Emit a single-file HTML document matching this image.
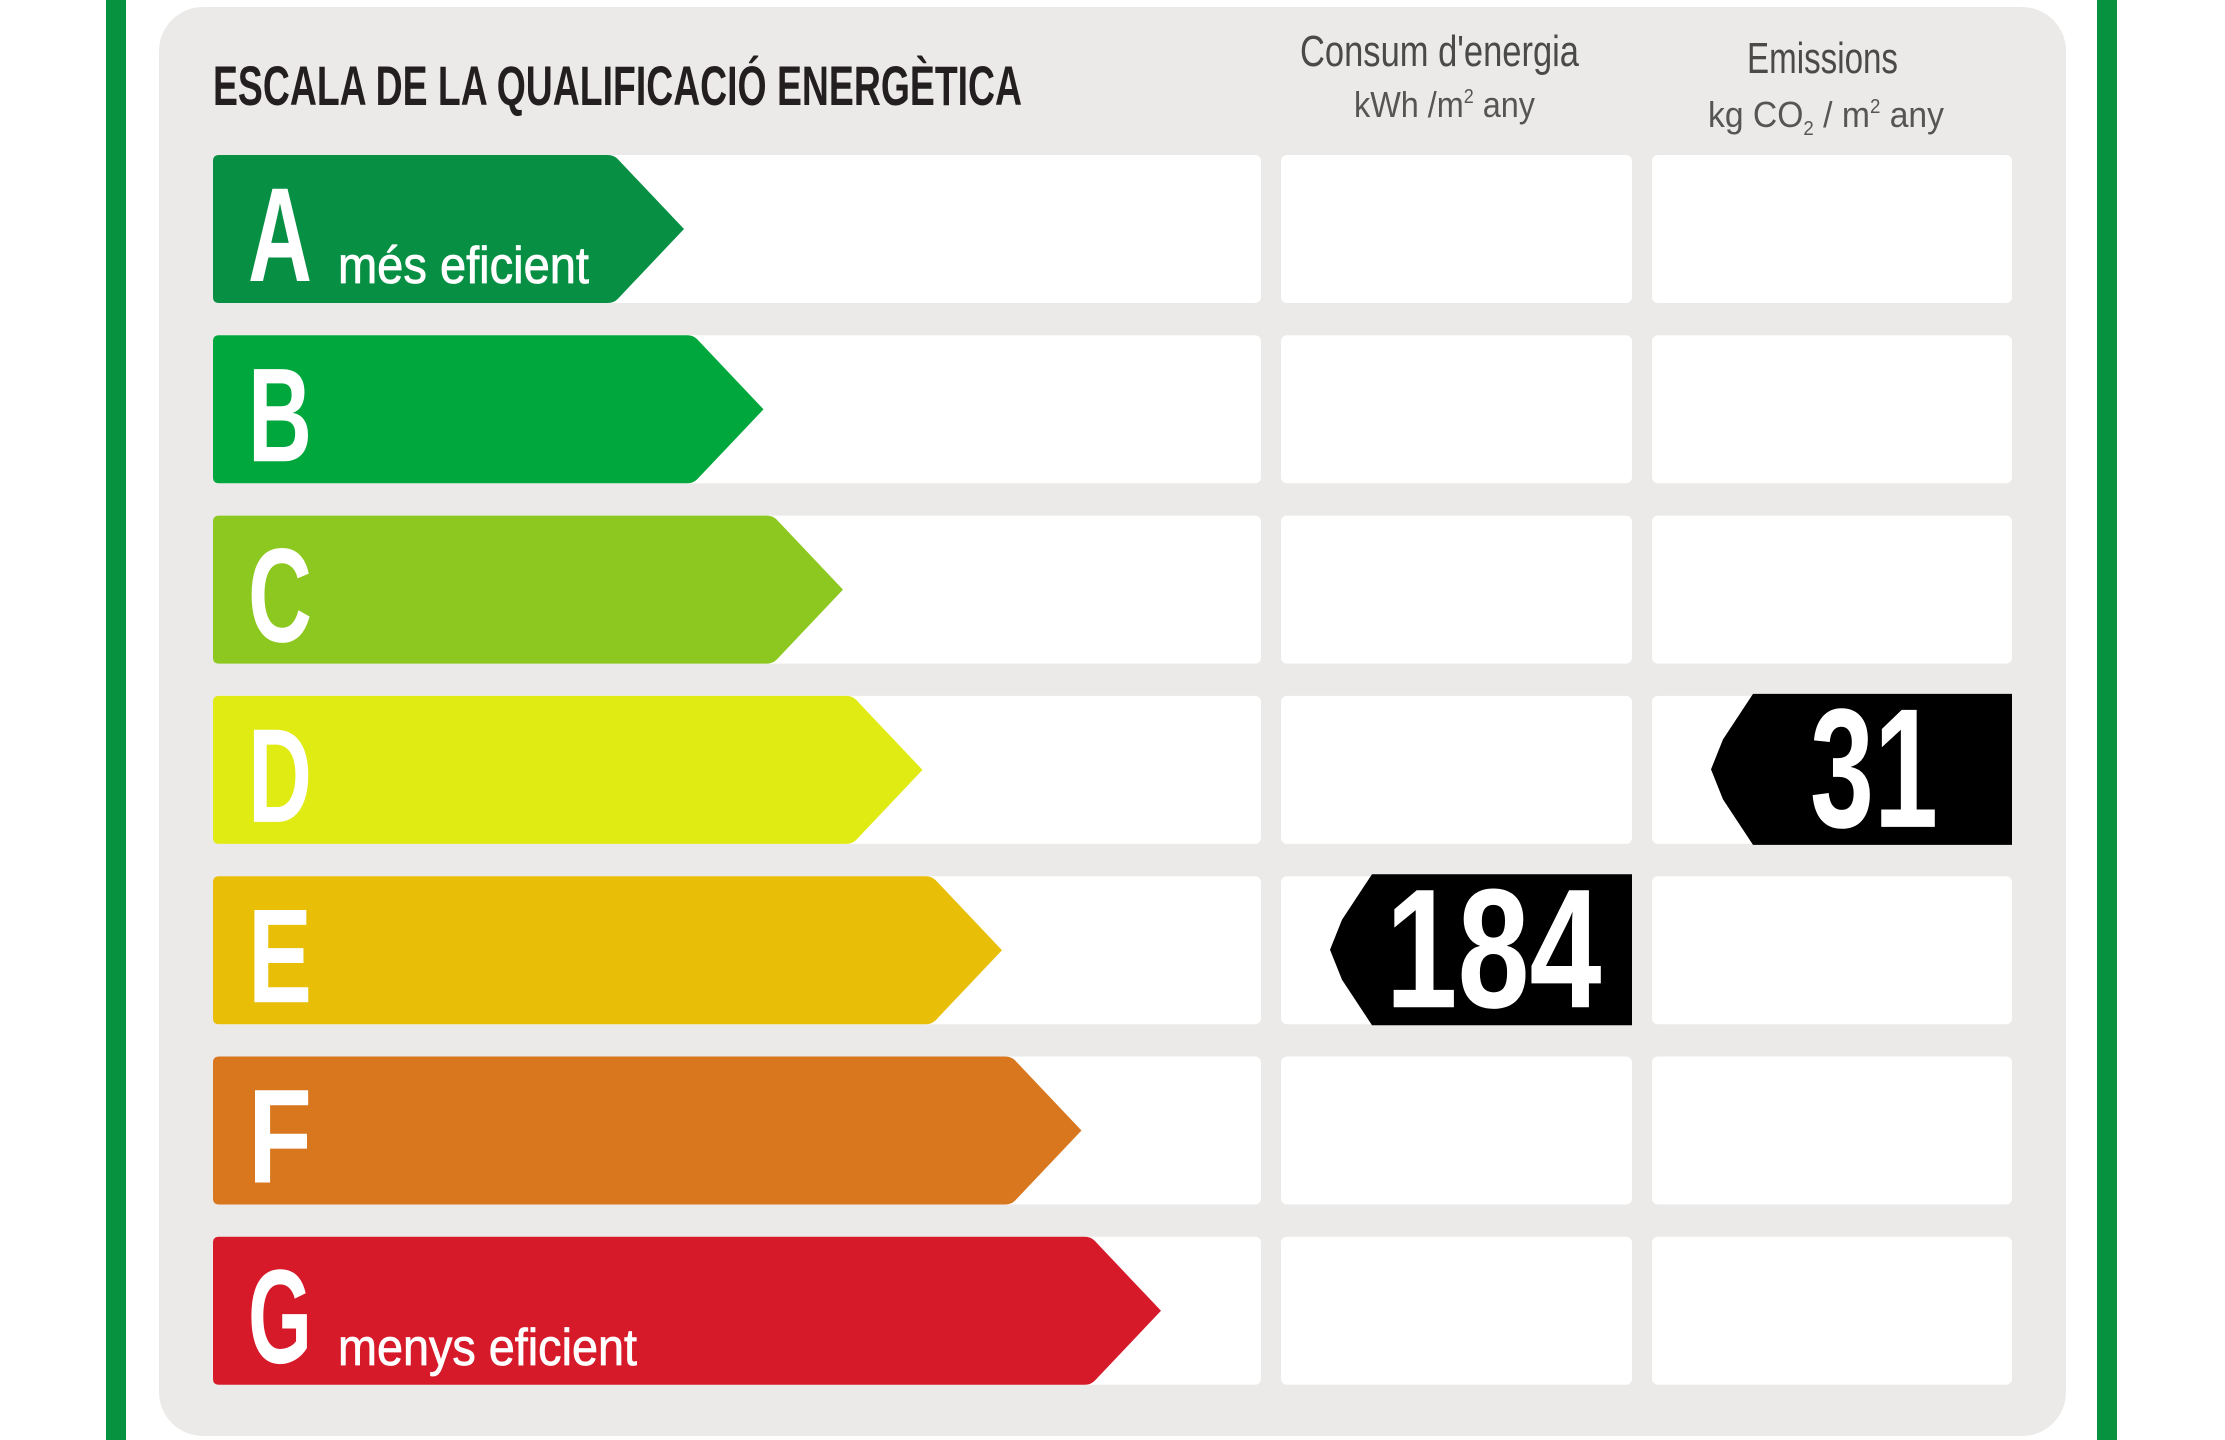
<!DOCTYPE html>
<html><head><meta charset="utf-8">
<style>
html,body{margin:0;padding:0;background:#fff;}
svg{display:block;}
text{font-family:"Liberation Sans",sans-serif;}
</style></head>
<body>
<svg id="chart" width="2225" height="1440" viewBox="0 0 2225 1440" xmlns="http://www.w3.org/2000/svg">
  <rect x="106" y="0" width="20" height="1440" fill="#07923f"/>
  <rect x="2097" y="0" width="20" height="1440" fill="#07923f"/>
  <rect x="159" y="7" width="1907" height="1429" rx="44" fill="#ebeae8"/>
  <text x="213" y="105" font-size="56" font-weight="bold" fill="#231f20" textLength="809" lengthAdjust="spacingAndGlyphs">ESCALA DE LA QUALIFICACIÓ ENERGÈTICA</text>
  <text x="1300" y="66" font-size="44" fill="#4a4a4a" textLength="279" lengthAdjust="spacingAndGlyphs">Consum d'energia</text>
  <text x="1354" y="117" font-size="36" fill="#555" textLength="181" lengthAdjust="spacingAndGlyphs">kWh /m<tspan font-size="20" dy="-14">2</tspan><tspan dy="14">  any</tspan></text>
  <text x="1747" y="73" font-size="44" fill="#4a4a4a" textLength="151" lengthAdjust="spacingAndGlyphs">Emissions</text>
  <text x="1708" y="127" font-size="36" fill="#555" textLength="236" lengthAdjust="spacingAndGlyphs">kg CO<tspan font-size="20" dy="8">2</tspan><tspan dy="-8">  / m</tspan><tspan font-size="20" dy="-14">2</tspan><tspan dy="14">  any</tspan></text>
  <g id="rows"></g>
</svg>
<script>
const ratings = ['A','B','C','D','E','F','G'];
const ratingColors = ['#078f43','#00a73c','#8cc81f','#e0ea13','#e8bf06','#d9771f','#d61a29'];
const ratingCaptions = ['més eficient','','','','','','menys eficient'];
const consumptionValue = 184;
const consumptionRating = 'E';
const emissionsValue = 31;
const emissionsRating = 'D';

const NS = 'http://www.w3.org/2000/svg';
const g = document.getElementById('rows');
const rowTop = i => 155 + i * 180.3;
const rowH = 148;
const tipX = i => 684 + i * 79.5;
function mk(tag, attrs){ const e=document.createElementNS(NS,tag); for(const k in attrs) e.setAttribute(k,attrs[k]); return e; }

ratings.forEach((r,i)=>{
  const y = rowTop(i);
  const c1 = mk('rect',{x:213,y:y,width:1048,height:rowH,rx:6,fill:'#fff'});
  
  
  g.appendChild(c1);
  const c2 = mk('rect',{x:1281,y:y,width:351,height:rowH,rx:6,fill:'#fff'});
  
  
  g.appendChild(c2);
  const c3 = mk('rect',{x:1652,y:y,width:360,height:rowH,rx:6,fill:'#fff'});
  
  
  g.appendChild(c3);
  const t = tipX(i), h = rowH/2, bx = t - h*0.95;
  const p = mk('path',{d:`M219 ${y} L${bx-6} ${y} Q${bx} ${y} ${bx+4} ${y+4} L${t} ${y+h} L${bx+4} ${y+rowH-4} Q${bx} ${y+rowH} ${bx-6} ${y+rowH} L219 ${y+rowH} Q213 ${y+rowH} 213 ${y+rowH-6} L213 ${y+6} Q213 ${y} 219 ${y} Z`,fill:ratingColors[i]});
  
  
  g.appendChild(p);
  const L = mk('text',{x:248,y:y+126,'font-size':134,'font-weight':'bold',fill:'#fff',textLength:64,lengthAdjust:'spacingAndGlyphs'});
  L.textContent = r;
  
  
  g.appendChild(L);
  if (ratingCaptions[i]) {
    const cap = mk('text',{x:338,y:y+128,'font-size':52,fill:'#fff',stroke:'#fff','stroke-width':0.8,textLength:ratingCaptions[i].length>12?299:251,lengthAdjust:'spacingAndGlyphs'});
    cap.textContent = ratingCaptions[i];
    
    
    g.appendChild(cap);
  }
});

function marker(value, rating, x0, x1, name, textW){
  const i = ratings.indexOf(rating);
  const y0 = rowTop(i) - 2, y1 = y0 + rowH + 3, mid = (y0+y1)/2;
  const pts = `${x0},${mid} ${x0+12},${mid-30} ${x0+42},${y0} ${x1},${y0} ${x1},${y1} ${x0+42},${y1} ${x0+12},${mid+30}`;
  const poly = mk('polygon',{points:pts,fill:'#000'});
  
  
  g.appendChild(poly);
  const s = String(value);
  const cx = x0 + 35 + (x1 - x0 - 45)/2;
  const tx = mk('text',{x:cx,y:y1-18,'font-size':170,'font-weight':'bold',fill:'#fff','text-anchor':'middle',textLength:textW*s.length,lengthAdjust:'spacingAndGlyphs'});
  tx.textContent = s;
  
  
  g.appendChild(tx);
}
marker(consumptionValue, consumptionRating, 1330, 1632, 'consumption', 72);
marker(emissionsValue, emissionsRating, 1711, 2012, 'emissions', 64);
</script>
</body></html>
